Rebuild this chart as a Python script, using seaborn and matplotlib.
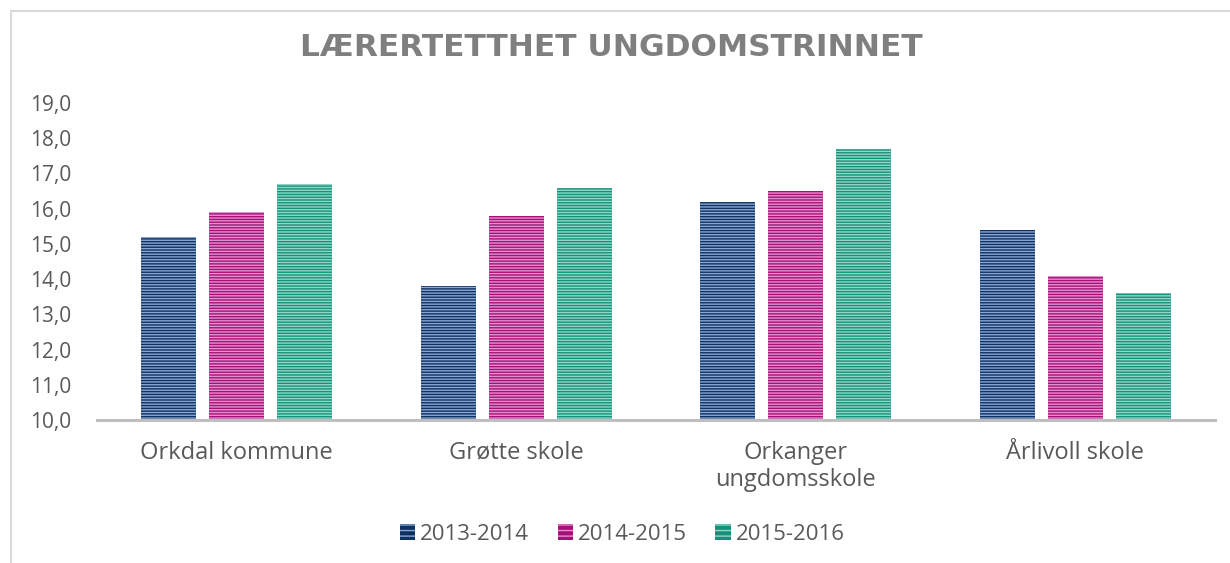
import matplotlib
matplotlib.use("Agg")
import matplotlib.pyplot as plt
import seaborn as sns
import pandas as pd
from matplotlib.patches import Rectangle, Patch

categories = ["Orkdal kommune", "Grøtte skole", "Orkanger\nungdomsskole", "Årlivoll skole"]
series = ["2013-2014", "2014-2015", "2015-2016"]
v_2013 = [15.2, 13.8, 16.2, 15.4]
v_2014 = [15.9, 15.8, 16.5, 14.1]
v_2015 = [16.7, 16.6, 17.7, 13.6]
yticks = [10, 11, 12, 13, 14, 15, 16, 17, 18, 19]
title = "LÆRERTETTHET UNGDOMSTRINNET"

colors = ["#10305f", "#a3127a", "#16907a"]
stripe_colors = ["#86a6d6", "#e690cc", "#90d8c6"]

rows = []
for s, vals in zip(series, [v_2013, v_2014, v_2015]):
    for c, v in zip(categories, vals):
        rows.append({"Kategori": c, "Periode": s, "Verdi": v})
df = pd.DataFrame(rows)

sns.set_theme(style="white")
plt.rcParams["font.family"] = ["Open Sans", "DejaVu Sans"]
plt.rcParams["hatch.linewidth"] = 1.0

fig = plt.figure(figsize=(12.3, 5.63), dpi=100)
ax = fig.add_axes([97/1230, 143/563, (1215-97)/1230, (420-103)/563])

sns.barplot(data=df, x="Kategori", y="Verdi", hue="Periode", order=categories,
            hue_order=series, palette=colors, width=0.73, gap=0.19,
            saturation=1, ax=ax, legend=False, linewidth=0)

n_cat = len(categories)
for i, p in enumerate(ax.patches):
    si = i // n_cat
    p.set_hatch("------")
    p.set_edgecolor(stripe_colors[si])
    p.set_linewidth(0)

ax.set_ylim(10, 19)
ax.set_xlim(-0.5, 3.5)
ax.set_yticks(yticks)
ax.set_yticklabels([f"{t:.1f}".replace(".", ",") for t in yticks])
ax.set_xlabel("")
ax.set_ylabel("")
for s in ["top", "right", "left"]:
    ax.spines[s].set_visible(False)
ax.spines["bottom"].set_color("#bfbfbf")
ax.spines["bottom"].set_linewidth(2.2)
ax.tick_params(axis="both", length=0, colors="#595959")
ax.tick_params(axis="x", pad=15, labelsize=17)
ax.tick_params(axis="y", pad=48, labelsize=15)
for lbl in ax.get_yticklabels():
    lbl.set_horizontalalignment("left")

fig.text(611/1230, 1 - 47/563, title, ha="center", va="center",
         fontsize=22.5, fontweight="bold", color="#7f7f7f", family="DejaVu Sans")

handles = [Patch(facecolor=c, hatch="---", edgecolor=sc, linewidth=0)
           for c, sc in zip(colors, stripe_colors)]
fig.legend(handles, series, loc="center", bbox_to_anchor=(622/1230, 1 - 534/563),
           ncol=3, frameon=False, fontsize=16, labelcolor="#595959",
           handlelength=0.7, handleheight=0.7, handletextpad=0.2, columnspacing=1.3)

fig.patches.append(Rectangle((11/1230, -0.1), 1.2, 1 - 11/563 + 0.1, transform=fig.transFigure,
                             fill=False, edgecolor="#d9d9d9", linewidth=1.5, figure=fig))

fig.savefig("out.png", dpi=100)
